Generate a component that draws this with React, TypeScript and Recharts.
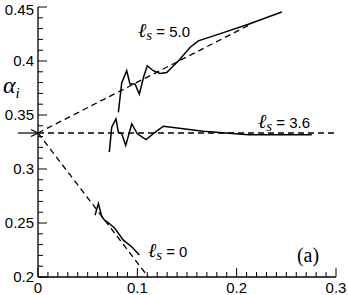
import { ComposedChart, Line, XAxis, YAxis, ReferenceDot } from 'recharts';

// x = volume fraction, y = alpha_i
const LS50: [number, number][] = [
  [0.0809, 0.3525], [0.0843, 0.38], [0.0893, 0.391], [0.0926, 0.3787], [0.0977, 0.3787],
  [0.102, 0.3694], [0.1067, 0.3864], [0.11, 0.3956], [0.116, 0.391], [0.1229, 0.3885],
  [0.1296, 0.3894], [0.1346, 0.394], [0.1413, 0.4], [0.153, 0.4125], [0.1614, 0.4186],
  [0.1866, 0.4263], [0.2118, 0.434], [0.2454, 0.4454],
];
const LS36: [number, number][] = [
  [0.0718, 0.3156], [0.0742, 0.3387], [0.0785, 0.3464], [0.0809, 0.334], [0.0843, 0.3326],
  [0.0883, 0.3218], [0.0944, 0.3418], [0.1, 0.3326], [0.1088, 0.3273], [0.1178, 0.334],
  [0.1262, 0.3396], [0.1665, 0.335], [0.2118, 0.3316], [0.2756, 0.3316],
];
const LS0: [number, number][] = [
  [0.0574, 0.2572], [0.0608, 0.268], [0.0641, 0.2563], [0.0664, 0.2532], [0.0718, 0.2495],
  [0.0775, 0.2449], [0.0859, 0.2341], [0.0943, 0.228], [0.102, 0.2203],
];
// theory (dashed)
const FLAT: [number, number][] = [[0, 1 / 3], [0.3, 1 / 3]];
const RISE: [number, number][] = [[0, 1 / 3], [0.213, 0.4335]];
const FALL: [number, number][] = [[0, 1 / 3], [0.111, 0.2]];

const X_MAJOR = [0, 0.1, 0.2, 0.3];
const Y_MAJOR = [0.2, 0.25, 0.3, 0.35, 0.4, 0.45];
const X_TICKS = Array.from({ length: 31 }, (_, i) => i / 100);
const Y_TICKS = Array.from({ length: 26 }, (_, i) => (20 + i) / 100);

const LABELS = [
  { x: 0.1007, y: 0.4225, text: '5.0' },
  { x: 0.2215, y: 0.3384, text: '3.6' },
  { x: 0.1107, y: 0.2185, text: '0' },
];

const FONT = '"Liberation Sans", Arial, sans-serif';
const SERIF = '"Liberation Serif", "Times New Roman", serif';

const toPts = (d: [number, number][]) => d.map(([x, y]) => ({ x, y }));
const major = (v: number, list: number[]) => list.some((m) => Math.abs(m - v) < 1e-6);

function BottomTick({ x, y, payload }: any) {
  const m = major(payload.value, X_MAJOR);
  return (
    <g>
      <line x1={x} x2={x} y1={y} y2={y - (m ? 9 : 5)} stroke="#000" />
      {m && (
        <text x={x} y={y + 16} textAnchor="middle" fontSize={15} fontFamily={FONT} fill="#000">
          {String(payload.value)}
        </text>
      )}
    </g>
  );
}

function TopTick({ x, y, payload }: any) {
  const m = major(payload.value, X_MAJOR);
  return <line x1={x} x2={x} y1={y} y2={y + (m ? 9 : 5)} stroke="#000" />;
}

function LeftTick({ x, y, payload }: any) {
  const m = major(payload.value, Y_MAJOR);
  return (
    <g>
      <line x1={x} x2={x + (m ? 9 : 5)} y1={y} y2={y} stroke="#000" />
      {m && (
        <text x={x - 4} y={Math.max(y + 5, 15)} textAnchor="end" fontSize={15} fontFamily={FONT} fill="#000">
          {String(payload.value)}
        </text>
      )}
    </g>
  );
}

function RightTick({ x, y, payload }: any) {
  const m = major(payload.value, Y_MAJOR);
  return <line x1={x} x2={x - (m ? 9 : 5)} y1={y} y2={y} stroke="#000" />;
}

function LsLabel({ cx, cy, text }: any) {
  return (
    <text x={cx} y={cy} fontSize={15} fontFamily={FONT} fill="#000">
      <tspan fontFamily={SERIF} fontStyle="italic" fontSize={20}>ℓ</tspan>
      <tspan fontFamily={SERIF} fontStyle="italic" fontSize={15} dy={3}>s</tspan>
      <tspan dy={-3} dx={4}>= {text}</tspan>
    </text>
  );
}

export default function App() {
  const lineProps = { dataKey: 'y', type: 'linear' as const, dot: false, stroke: '#000', isAnimationActive: false };
  return (
    <div style={{ position: 'absolute', left: 0, top: 0, width: 348, height: 295, background: '#fff' }}>
      <ComposedChart width={348} height={295} margin={{ top: 7, right: 12, bottom: 0, left: 0 }}>
        <XAxis
          dataKey="x"
          type="number"
          domain={[0, 0.3]}
          ticks={X_TICKS}
          interval={0}
          height={18}
          tickSize={0}
          tickMargin={0}
          tick={<BottomTick />}
          axisLine={{ stroke: '#000', strokeWidth: 1.3 }}
        />
        <XAxis
          xAxisId="top"
          orientation="top"
          dataKey="x"
          type="number"
          domain={[0, 0.3]}
          ticks={X_TICKS}
          interval={0}
          height={0}
          tickSize={0}
          tickMargin={0}
          tick={<TopTick />}
          axisLine={{ stroke: '#000', strokeWidth: 1.3 }}
        />
        <YAxis
          type="number"
          domain={[0.2, 0.45]}
          ticks={Y_TICKS}
          interval={0}
          width={38}
          tickSize={0}
          tickMargin={0}
          tick={<LeftTick />}
          axisLine={{ stroke: '#000', strokeWidth: 1.3 }}
        />
        <YAxis
          yAxisId="right"
          orientation="right"
          type="number"
          domain={[0.2, 0.45]}
          ticks={Y_TICKS}
          interval={0}
          width={0}
          tickSize={0}
          tickMargin={0}
          tick={<RightTick />}
          axisLine={{ stroke: '#000', strokeWidth: 1.3 }}
        />
        <Line {...lineProps} data={toPts(FLAT)} strokeWidth={1.3} strokeDasharray="6 4" />
        <Line {...lineProps} data={toPts(RISE)} strokeWidth={1.3} strokeDasharray="6 4" />
        <Line {...lineProps} data={toPts(FALL)} strokeWidth={1.3} strokeDasharray="6 4" />
        <Line {...lineProps} data={toPts(LS50)} strokeWidth={1.5} />
        <Line {...lineProps} data={toPts(LS36)} strokeWidth={1.5} />
        <Line {...lineProps} data={toPts(LS0)} strokeWidth={1.5} />
        {LABELS.map((l) => (
          <ReferenceDot
            key={l.text}
            x={l.x}
            y={l.y}
            ifOverflow="visible"
            shape={(p: any) => <LsLabel cx={p.cx} cy={p.cy} text={l.text} />}
          />
        ))}
        <ReferenceDot
          x={0.2607}
          y={0.2138}
          ifOverflow="visible"
          shape={(p: any) => (
            <text x={p.cx} y={p.cy} fontSize={20} fontFamily={SERIF} fill="#000">(a)</text>
          )}
        />
        <ReferenceDot
          x={0}
          y={0.3707}
          ifOverflow="visible"
          shape={(p: any) => (
            <text x={p.cx - 35} y={p.cy} fontSize={24} fontFamily={SERIF} fontStyle="italic" fill="#000">
              α<tspan fontSize={15} dy={5}>i</tspan>
            </text>
          )}
        />
        <ReferenceDot
          x={0}
          y={1 / 3}
          ifOverflow="visible"
          shape={(p: any) => (
            <g>
              <line x1={p.cx - 20} x2={p.cx - 1} y1={p.cy} y2={p.cy} stroke="#000" strokeWidth={1.2} />
              <path d={`M${p.cx - 7},${p.cy - 3.5} L${p.cx},${p.cy} L${p.cx - 7},${p.cy + 3.5}`} fill="none" stroke="#000" strokeWidth={1.2} />
            </g>
          )}
        />
      </ComposedChart>
    </div>
  );
}
